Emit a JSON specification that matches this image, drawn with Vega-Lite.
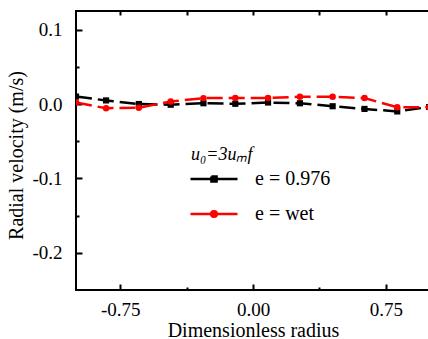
{
  "$schema": "https://vega.github.io/schema/vega-lite/v6.json",
  "width": 354,
  "height": 279,
  "autosize": "none",
  "padding": {"left": 76, "top": 11, "right": 0, "bottom": 49},
  "background": "white",
  "config": {
    "view": {"stroke": "black", "strokeWidth": 2},
    "font": "Liberation Serif",
    "axis": {"domainColor": "black", "domainWidth": 2, "tickColor": "black", "tickWidth": 2, "labelColor": "black", "titleColor": "black", "labelFont": "Liberation Serif", "titleFont": "Liberation Serif", "labelFontSize": 19, "titleFontSize": 20, "titleFontWeight": "normal", "grid": false}
  },
  "data": {"values": [
    {"series": "e = 0.976", "r": -1.0, "v": 0.010},
    {"series": "e = 0.976", "r": -0.83, "v": 0.0048},
    {"series": "e = 0.976", "r": -0.645, "v": 0.0},
    {"series": "e = 0.976", "r": -0.465, "v": -0.001},
    {"series": "e = 0.976", "r": -0.28, "v": 0.001},
    {"series": "e = 0.976", "r": -0.10, "v": 0.0003},
    {"series": "e = 0.976", "r": 0.085, "v": 0.002},
    {"series": "e = 0.976", "r": 0.265, "v": 0.001},
    {"series": "e = 0.976", "r": 0.45, "v": -0.003},
    {"series": "e = 0.976", "r": 0.63, "v": -0.0066},
    {"series": "e = 0.976", "r": 0.815, "v": -0.010},
    {"series": "e = 0.976", "r": 0.995, "v": -0.004},
    {"series": "e = wet", "r": -1.0, "v": 0.002},
    {"series": "e = wet", "r": -0.83, "v": -0.0057},
    {"series": "e = wet", "r": -0.645, "v": -0.005},
    {"series": "e = wet", "r": -0.465, "v": 0.0034},
    {"series": "e = wet", "r": -0.28, "v": 0.0079},
    {"series": "e = wet", "r": -0.10, "v": 0.008},
    {"series": "e = wet", "r": 0.085, "v": 0.008},
    {"series": "e = wet", "r": 0.265, "v": 0.0098},
    {"series": "e = wet", "r": 0.45, "v": 0.0098},
    {"series": "e = wet", "r": 0.63, "v": 0.008},
    {"series": "e = wet", "r": 0.815, "v": -0.0044},
    {"series": "e = wet", "r": 0.995, "v": -0.0044}
  ]},
  "resolve": {"axis": {"x": "independent", "y": "independent"}},
  "layer": [
    {
      "mark": {"type": "line", "strokeWidth": 2.5, "clip": true},
      "encoding": {
        "x": {"field": "r", "type": "quantitative", "scale": {"domain": [-1, 1], "nice": false, "zero": false},
          "axis": {"orient": "bottom", "values": [-0.75, 0, 0.75], "labelExpr": "replace(format(datum.value, '.2f'), '−', '-')", "tickSize": -6, "labelPadding": 16, "title": "Dimensionless radius", "titlePadding": 1, "domain": false}},
        "y": {"field": "v", "type": "quantitative", "scale": {"domain": [-0.25, 0.125], "nice": false, "zero": false},
          "axis": {"orient": "left", "values": [-0.2, -0.1, 0, 0.1], "labelExpr": "replace(format(datum.value, '.1f'), '−', '-')", "tickSize": -6, "labelPadding": 20, "title": "Radial velocity (m/s)", "titlePadding": 5, "titleY": 144, "domain": false}},
        "strokeDash": {"value": [16, 6]},
        "color": {"field": "series", "type": "nominal", "scale": {"domain": ["e = 0.976", "e = wet"], "range": ["#000000", "#ff0000"]},
          "legend": {"orient": "none", "legendX": 115, "legendY": 135, "title": "u₀=3uₘf", "titleFont": "Liberation Serif", "titleFontStyle": "italic", "titleFontWeight": "normal", "titleFontSize": 18, "titleColor": "black", "labelFont": "Liberation Serif", "labelFontSize": 20, "labelColor": "black", "symbolSize": 100, "labelOffset": 14, "rowPadding": -16, "titlePadding": -10,
            "encode": {"symbols": {"update": {
              "shape": {"signal": "datum.value === 'e = 0.976' ? 'M-1,0H1M-0.11,-0.11H0.11V0.11H-0.11Z' : 'M-1,0H1M0.12,0A0.12,0.12 0 1,1 -0.12,0A0.12,0.12 0 1,1 0.12,0Z'"},
              "size": {"value": 2209},
              "strokeWidth": {"value": 2.5},
              "strokeDash": {"signal": "[2000, 1]"},
              "fill": {"signal": "datum.value === 'e = 0.976' ? '#000000' : '#ff0000'"},
              "stroke": {"signal": "datum.value === 'e = 0.976' ? '#000000' : '#ff0000'"},
              "xc": {"value": 23}
            }}}}}
      }
    },
    {
      "transform": [{"filter": "datum.series === 'e = 0.976'"}],
      "mark": {"type": "point", "shape": "square", "filled": true, "opacity": 1, "size": 38, "color": "#000000", "clip": true},
      "encoding": {
        "x": {"field": "r", "type": "quantitative",
          "axis": {"orient": "bottom", "values": [-0.375, 0.375], "labels": false, "tickSize": -3, "title": null, "domain": false}},
        "y": {"field": "v", "type": "quantitative",
          "axis": {"orient": "left", "values": [-0.15, -0.05, 0.05], "labels": false, "tickSize": -3, "title": null, "domain": false}}
      }
    },
    {
      "transform": [{"filter": "datum.series === 'e = wet'"}],
      "mark": {"type": "point", "shape": "circle", "filled": true, "opacity": 1, "size": 42, "color": "#ff0000", "clip": true},
      "encoding": {
        "x": {"field": "r", "type": "quantitative",
          "axis": {"orient": "top", "values": [-0.75, -0.375, 0, 0.375, 0.75], "labels": false, "tickSize": -4, "title": null, "domain": false}},
        "y": {"field": "v", "type": "quantitative", "axis": null}
      }
    }
  ]
}
